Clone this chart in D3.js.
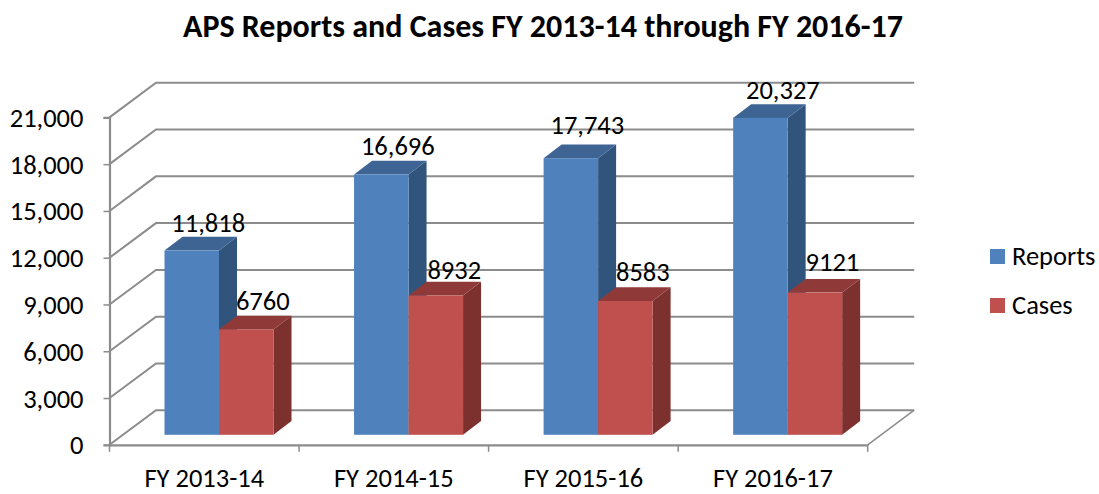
<!DOCTYPE html>
<html><head><meta charset="utf-8">
<script src="https://cdn.jsdelivr.net/npm/d3@7"></script>
<style>
html,body{margin:0;padding:0;background:#fff}
svg{display:block}
text{font-family:Carlito,Lato,"Open Sans",sans-serif;fill:#000}
</style></head><body><svg id="c" width="1099" height="494"></svg>
<script>
const title = "APS Reports and Cases FY 2013-14 through FY 2016-17";
const categories = ["FY 2013-14","FY 2014-15","FY 2015-16","FY 2016-17"];
const seriesNames = ["Reports","Cases"];
const reports = [11818,16696,17743,20327];
const cases = [6760,8932,8583,9121];
const yTicks = [0,3000,6000,9000,12000,15000,18000,21000];
const colors = {Reports:{front:"#4F81BD",top:"#3E6494",side:"#31547C"},Cases:{front:"#C0504D",top:"#8F3A38",side:"#7D312F"}};
// hand-placed data label offsets (layout only), per category
const labelNudge = {
  Reports:[[0,0],[0,-1],[0,-5],[6,0]],
  Cases:[[0,0],[2,2],[1,-1],[1,-3]]
};

const svg = d3.select("#c");
const W = {x:46.5,y:-34.6};      // wall depth
const B = {x:18,y:-13.7};        // bar depth
const baseShift = -10;           // bar front plane above the axis floor line
const y = d3.scaleLinear().domain([0,21000]).range([444.8,117.4]);
const x0 = d3.scaleBand().domain(categories).range([109.5,867.7]);
const x1 = d3.scaleBand().domain(seriesNames).range([55,164]);
const grey = "#8C8C8C";
const FS = 26.5;

svg.append("text").attr("x",543).attr("y",37).attr("text-anchor","middle")
  .attr("font-weight",700).attr("font-size",32).text(title);

// gridlines: side wall + back wall
const grid = svg.append("g").attr("fill","none").attr("stroke",grey).attr("stroke-width",2);
grid.selectAll("path").data(yTicks).join("path")
  .attr("d",v=>d3.line()([[109.5,y(v)],[109.5+W.x,y(v)+W.y],[867.7+W.x,y(v)+W.y]]));
// floor right edge
grid.append("path").attr("d",d3.line()([[867.7,y(0)],[867.7+W.x,y(0)+W.y]])).attr("stroke-width",1.5);

// bars
const data = categories.map((c,i)=>({c,vals:[{s:"Reports",v:reports[i],i},{s:"Cases",v:cases[i],i}]}));
const g = svg.selectAll("g.group").data(data).join("g").attr("class","group")
  .attr("transform",d=>`translate(${x0(d.c)},0)`);
const base = y(0)+baseShift;
const H = v=>y(0)-y(v);
const bar = g.selectAll("g.bar").data(d=>d.vals).join("g").attr("class","bar");
bar.append("path").attr("fill",d=>colors[d.s].side).attr("d",d=>{
  const l=x1(d.s)+x1.bandwidth(),t=base-H(d.v);
  return d3.line()([[l,t],[l+B.x,t+B.y],[l+B.x,base+B.y],[l,base]])+"Z";});
bar.append("path").attr("fill",d=>colors[d.s].top).attr("d",d=>{
  const l=x1(d.s),r=l+x1.bandwidth(),t=base-H(d.v);
  return d3.line()([[l,t],[l+B.x,t+B.y],[r+B.x,t+B.y],[r,t]])+"Z";});
bar.append("rect").attr("fill",d=>colors[d.s].front)
  .attr("x",d=>x1(d.s)).attr("width",x1.bandwidth())
  .attr("y",d=>base-H(d.v)).attr("height",d=>H(d.v));

// data labels on top
const fmt = d3.format(",");
g.selectAll("text.lab").data(d=>d.vals).join("text").attr("class","lab")
  .attr("text-anchor","middle").attr("font-size",FS)
  .attr("x",d=>x1(d.s)+x1.bandwidth()/2+16.5+labelNudge[d.s][d.i][0])
  .attr("y",d=>base-H(d.v)-19+labelNudge[d.s][d.i][1])
  .text(d=>d.s==="Reports"?fmt(d.v):String(d.v));

// axes
const yAxis = svg.append("g").attr("transform","translate(109.5,0)")
  .call(d3.axisLeft(y).tickValues(yTicks).tickFormat(fmt).tickSize(6).tickPadding(20));
const xAxis = svg.append("g").attr("transform",`translate(0,${y(0)})`)
  .call(d3.axisBottom(x0).tickSize(0).tickPadding(32));
xAxis.selectAll(".tick line").remove();
xAxis.selectAll(".xtick").data(d3.range(categories.length+1)).join("line")
  .attr("x1",i=>x0.range()[0]+i*x0.step()).attr("x2",i=>x0.range()[0]+i*x0.step())
  .attr("y1",0).attr("y2",7).attr("stroke",grey).attr("stroke-width",1.5);
[yAxis,xAxis].forEach(a=>{
  a.selectAll(".domain").attr("stroke",grey).attr("stroke-width",2.2);
  a.selectAll(".tick line").attr("stroke",grey).attr("stroke-width",1.5);
  a.selectAll("text").attr("font-size",FS).attr("font-family",'Carlito,Lato,"Open Sans",sans-serif').attr("fill","#000");
});
yAxis.selectAll(".tick text").attr("dy","0.34em");
xAxis.selectAll(".tick text").attr("dy",0).attr("y",42);

// legend
const leg = svg.selectAll("g.leg").data(seriesNames).join("g").attr("class","leg")
  .attr("transform",(d,i)=>`translate(990,${249+i*49})`);
leg.append("rect").attr("width",15).attr("height",15).attr("fill",d=>colors[d].front);
leg.append("text").attr("x",22).attr("y",15.5).attr("font-size",FS).text(d=>d);
</script></body></html>
